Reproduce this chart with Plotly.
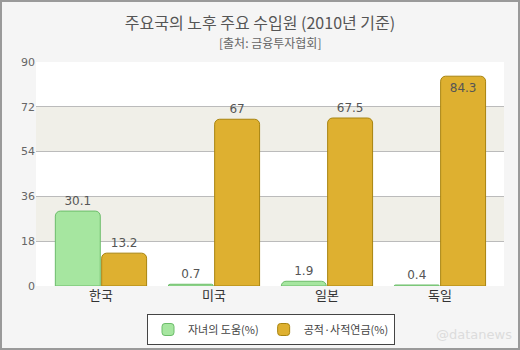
import plotly.graph_objects as go

categories = ["한국", "미국", "일본", "독일"]
child_help = [30.1, 0.7, 1.9, 0.4]
pension = [13.2, 67, 67.5, 84.3]
series_names = ["자녀의 도움(%)", "공적·사적연금(%)"]
y_ticks = [0, 18, 36, 54, 72, 90]

FONT = "Noto Sans CJK KR"
NUMFONT = "DejaVu Sans"

fig = go.Figure()
fig.add_trace(go.Bar(
    x=categories, y=child_help, name=series_names[0],
    marker=dict(color="#a6e6a0", line=dict(color="#6cbc6a", width=1), cornerradius=5),
    text=[str(v) for v in child_help], textposition="outside",
    textfont=dict(family=NUMFONT, size=12, color="#555"), cliponaxis=False,
))
fig.add_trace(go.Bar(
    x=categories, y=pension, name=series_names[1],
    marker=dict(color="#deb030", line=dict(color="#a88410", width=1), cornerradius=5),
    text=[str(v) for v in pension],
    textposition=["outside", "outside", "outside", "inside"],
    insidetextanchor="end",
    textfont=dict(family=NUMFONT, size=12, color="#555"), cliponaxis=False,
))

# alternating bands
for lo, hi in [(54, 72), (18, 36)]:
    fig.add_shape(type="rect", xref="paper", yref="y", x0=0, x1=1, y0=lo, y1=hi,
                  fillcolor="#f0efe8", line_width=0, layer="below")

PH = 224.0
fig.update_layout(
    width=520, height=350,
    margin=dict(l=36, r=16, t=62, b=64, autoexpand=False),
    paper_bgcolor="#f5f5f5", plot_bgcolor="#ffffff",
    barmode="group", bargap=0.18, bargroupgap=0.03,
    font=dict(family=FONT, color="#555"),
    title=dict(text="주요국의 노후 주요 수입원 (2010년 기준)", x=0.5, xanchor="center",
               y=1 - 23/350, yanchor="middle",
               font=dict(family=FONT, size=16, color="#555")),
    annotations=[
        dict(text="[출처: 금융투자협회]", xref="paper", yref="paper", x=0.5,
             y=1 + (62 - 43) / PH, yanchor="middle", showarrow=False,
             font=dict(family=FONT, size=12, color="#666")),
        dict(text="@datanews", xref="paper", yref="paper", x=1 + 10/468, xanchor="right",
             y=(286 - 334) / PH, yanchor="middle", showarrow=False,
             font=dict(family="DejaVu Sans", size=13, color="#dcdcdc")),
    ],
    legend=dict(orientation="h", x=271/520, xanchor="center", xref="container",
                y=1 - 314/350, yanchor="top", yref="container",
                bgcolor="#ffffff", bordercolor="#444", borderwidth=1,
                font=dict(family=FONT, size=11, color="#444"),
                itemwidth=30, traceorder="normal", tracegroupgap=0),
    xaxis=dict(showgrid=False, showline=False, ticks="", range=[-0.575, 3.567],
               tickfont=dict(family=FONT, size=13, color="#333")),
    yaxis=dict(range=[0, 90], tickvals=y_ticks, showgrid=True, gridcolor="#bbbbbb",
               zeroline=False, showline=False, ticks="",
               tickfont=dict(family=NUMFONT, size=11, color="#666")),
    shapes=list(fig.layout.shapes) + [
        dict(type="rect", xref="paper", yref="paper", x0=-35/468, x1=1 + 15/468,
             y0=-63/PH, y1=1 + 61/PH, line=dict(color="#9a9a9a", width=2),
             fillcolor="rgba(0,0,0,0)", layer="below"),
    ],
)

fig.write_html("out.html")
